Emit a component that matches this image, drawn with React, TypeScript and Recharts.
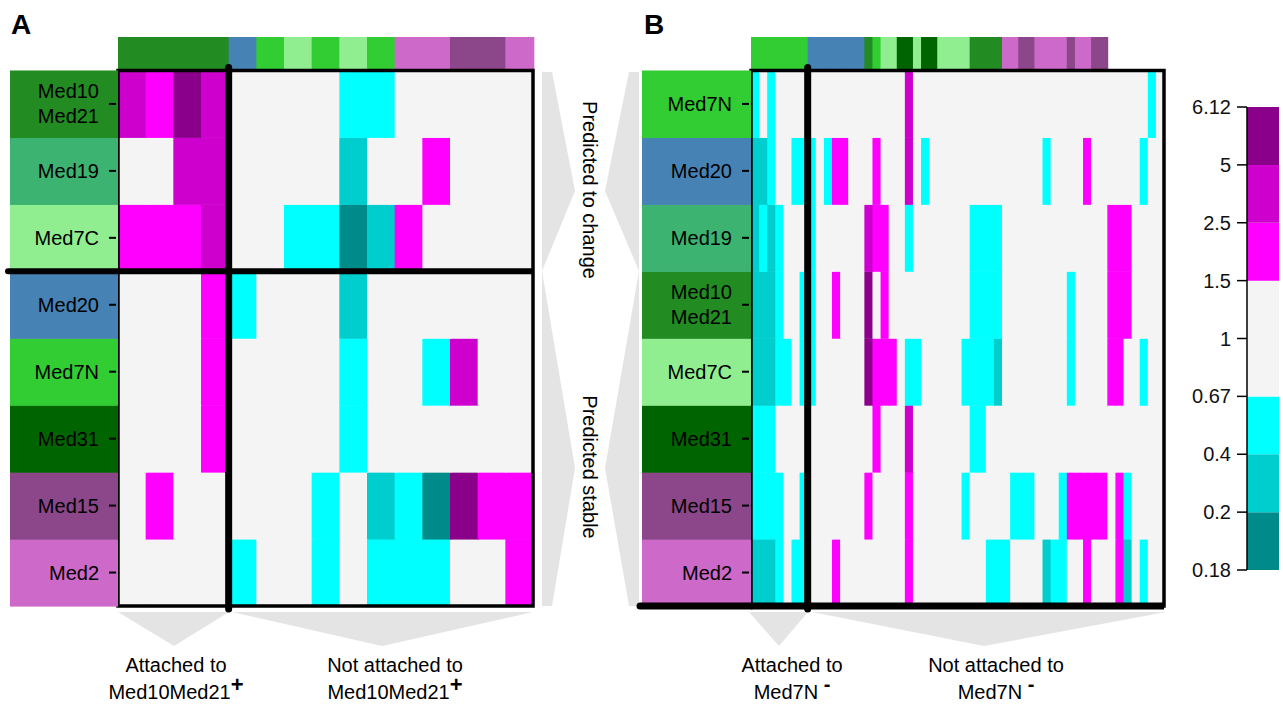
import React from "react";
import { Bar, BarChart, Cell, ReferenceArea, ReferenceLine, XAxis, YAxis } from "recharts";

const FONT = '"Liberation Sans", Arial, Helvetica, sans-serif';

// subunit colours (row label boxes and column bars)
const SUB: Record<string, string> = {
  Med10Med21: "#228B22",
  Med19: "#3CB371",
  Med7C: "#90EE90",
  Med20: "#4682B4",
  Med7N: "#32CD32",
  Med31: "#006400",
  Med15: "#8B4789",
  Med2: "#CD69C9",
};

// colour key, bottom to top
const legendTicks = ["0.18", "0.2", "0.4", "0.67", "1", "1.5", "2.5", "5", "6.12"];
const legendColors = ["#008B8B", "#00CDCD", "#00FFFF", "#F4F4F4", "#F4F4F4", "#FF00FF", "#CD00CD", "#8B008B"];

function heatColor(v: number) {
  if (v >= 5) return "#8B008B";
  if (v >= 2.5) return "#CD00CD";
  if (v >= 1.5) return "#FF00FF";
  if (v > 0.67) return "#F4F4F4";
  if (v >= 0.4) return "#00FFFF";
  if (v >= 0.2) return "#00CDCD";
  return "#008B8B";
}

// ---- panel A ----
const rowsA = ["Med10Med21", "Med19", "Med7C", "Med20", "Med7N", "Med31", "Med15", "Med2"];
const topA = [
  "Med10Med21", "Med10Med21", "Med10Med21", "Med10Med21", "Med20", "Med7N", "Med7C", "Med7N",
  "Med7C", "Med7N", "Med2", "Med2", "Med15", "Med15", "Med2",
];
const heatA = [
  [3.5, 2, 5.5, 3.5, 1, 1, 1, 1, 0.5, 0.5, 1, 1, 1, 1, 1],
  [1, 1, 3.5, 3.5, 1, 1, 1, 1, 0.3, 1, 1, 2, 1, 1, 1],
  [2, 2, 2, 3.5, 1, 1, 0.5, 0.5, 0.19, 0.3, 2, 1, 1, 1, 1],
  [1, 1, 1, 2, 0.5, 1, 1, 1, 0.3, 1, 1, 1, 1, 1, 1],
  [1, 1, 1, 2, 1, 1, 1, 1, 0.5, 1, 1, 0.5, 3.5, 1, 1],
  [1, 1, 1, 2, 1, 1, 1, 1, 0.5, 1, 1, 1, 1, 1, 1],
  [1, 2, 1, 1, 1, 1, 1, 0.5, 1, 0.3, 0.5, 0.19, 5.5, 2, 2],
  [1, 1, 1, 1, 0.5, 1, 1, 0.5, 1, 0.5, 0.5, 0.5, 1, 1, 2],
];

// ---- panel B ----
const rowsB = ["Med7N", "Med20", "Med19", "Med10Med21", "Med7C", "Med31", "Med15", "Med2"];
const topB: (string | null)[] = [
  "Med7N", "Med7N", "Med7N", "Med7N", "Med7N", "Med7N", "Med7N",
  "Med20", "Med20", "Med20", "Med20", "Med20", "Med20", "Med20",
  "Med10Med21", "Med7N", "Med7C", "Med7C", "Med31", "Med31", "Med7C", "Med31", "Med31",
  "Med7C", "Med7C", "Med7C", "Med7C", "Med10Med21", "Med10Med21", "Med10Med21", "Med10Med21",
  "Med2", "Med2", "Med15", "Med15", "Med2", "Med2", "Med2", "Med2", "Med15", "Med2", "Med2",
  "Med15", "Med15", null, null, null, null, null, null, null,
];
const heatB = [
  [0.5, 1, 0.5, 1, 1, 1, 1, 1, 1, 1, 1, 1, 1, 1, 1, 1, 1, 1, 1, 3.5, 1, 1, 1, 1, 1, 1, 1, 1, 1, 1,
    1, 1, 1, 1, 1, 1, 1, 1, 1, 1, 1, 1, 1, 1, 1, 1, 1, 1, 1, 0.5, 1],
  [0.3, 0.3, 0.5, 1, 1, 0.5, 0.5, 0.5, 1, 0.5, 2, 2, 1, 1, 1, 2, 1, 1, 1, 3.5, 1, 0.5, 1, 1, 1, 1, 1, 1, 1, 1,
    1, 1, 1, 1, 1, 1, 0.5, 1, 1, 1, 1, 2, 1, 1, 1, 1, 1, 1, 0.5, 1, 1],
  [0.3, 0.5, 0.3, 0.5, 1, 1, 1, 0.5, 1, 1, 1, 1, 1, 1, 3.5, 2, 2, 1, 1, 0.5, 1, 1, 1, 1, 1, 1, 1, 0.5, 0.5, 0.5,
    0.5, 1, 1, 1, 1, 1, 1, 1, 1, 1, 1, 1, 1, 1, 2, 2, 2, 1, 1, 1, 1],
  [0.3, 0.3, 0.3, 0.5, 1, 1, 0.5, 0.5, 1, 1, 2, 1, 1, 1, 5.5, 1, 2, 1, 1, 1, 1, 1, 1, 1, 1, 1, 1, 0.5, 0.5, 0.5,
    0.5, 1, 1, 1, 1, 1, 1, 1, 1, 0.5, 1, 1, 1, 1, 2, 2, 2, 1, 1, 1, 1],
  [0.3, 0.3, 0.3, 0.5, 0.5, 1, 0.5, 0.5, 1, 1, 1, 1, 1, 1, 5.5, 2, 2, 2, 1, 0.5, 0.5, 1, 1, 1, 1, 1, 0.5, 0.5, 0.5, 0.5,
    0.3, 1, 1, 1, 1, 1, 1, 1, 1, 0.5, 1, 1, 1, 1, 2, 2, 1, 1, 0.5, 1, 1],
  [0.5, 0.5, 0.5, 1, 1, 1, 1, 1, 1, 1, 1, 1, 1, 1, 1, 2, 1, 1, 1, 3.5, 1, 1, 1, 1, 1, 1, 1, 0.5, 0.5, 1,
    1, 1, 1, 1, 1, 1, 1, 1, 1, 1, 1, 1, 1, 1, 1, 1, 1, 1, 1, 1, 1],
  [0.5, 0.5, 0.5, 0.5, 1, 1, 0.5, 1, 1, 1, 1, 1, 1, 1, 2, 1, 1, 1, 1, 2, 1, 1, 1, 1, 1, 1, 0.5, 1, 1, 1,
    1, 1, 0.5, 0.5, 0.5, 1, 1, 1, 0.5, 2, 2, 2, 2, 2, 1, 2, 0.5, 1, 1, 1, 1],
  [0.3, 0.3, 0.3, 0.5, 1, 0.5, 0.5, 1, 1, 1, 2, 1, 1, 1, 1, 1, 1, 1, 1, 2, 1, 1, 1, 1, 1, 1, 1, 1, 1, 0.5,
    0.5, 0.5, 1, 1, 1, 1, 0.3, 0.5, 0.5, 1, 1, 2, 1, 1, 1, 2, 0.3, 1, 0.5, 1, 1],
];

const CHART_H = 620;
const M_TOP = 37;
const M_BOTTOM = 14;
const ROW_H = (CHART_H - M_TOP - M_BOTTOM) / 8.5;

// cell drawn a touch wider so neighbouring cells meet without seams
const CellShape = (p: any) => (
  <rect x={p.x} y={p.y} width={p.width + 1} height={p.height + 0.5} fill={p.fill} />
);

type PanelProps = {
  rows: string[];
  heat: number[][];
  topBar: (string | null)[];
  attached: number;
  split?: number;
  bottomRule?: boolean;
  axisWidth: number;
  plotWidth: number;
  width: number;
};

function HeatPanel({ rows, heat, topBar, attached, split, bottomRule, axisWidth, plotWidth, width }: PanelProps) {
  const cols = heat[0].map((_, j) => `c${j + 1}`);
  const data = cols.map((c) => {
    const d: Record<string, string | number> = { col: c, top: 0.5 };
    rows.forEach((_, i) => (d[`r${i}`] = 1));
    return d;
  });
  const n = rows.length;
  const boxLeft = 10;

  const RowTick = (props: any) => {
    const { y, payload } = props;
    const i = n - 1 - Math.floor(payload.value);
    const name = rows[i];
    const lines = name === "Med10Med21" ? ["Med10", "Med21"] : [name];
    const top = y - ROW_H / 2;
    return (
      <g>
        <rect x={boxLeft} y={top} width={axisWidth - boxLeft} height={ROW_H + 0.6} fill={SUB[name]} />
        {lines.map((t, k) => (
          <text
            key={t}
            x={axisWidth - 19}
            y={y + (k - (lines.length - 1) / 2) * 25}
            textAnchor="end"
            dominantBaseline="central"
            fontSize={20}
            fontFamily={FONT}
            fill="#000"
          >
            {t}
          </text>
        ))}
        <line x1={axisWidth - 9} x2={axisWidth - 2} y1={y} y2={y} stroke="#000" strokeWidth={2} />
        {split !== undefined && i === split - 1 && (
          <line x1={boxLeft - 2} x2={axisWidth} y1={top + ROW_H} y2={top + ROW_H} stroke="#000" strokeWidth={6} strokeLinecap="round" />
        )}
        {bottomRule && i === n - 1 && (
          <line x1={boxLeft - 2} x2={axisWidth} y1={top + ROW_H} y2={top + ROW_H} stroke="#000" strokeWidth={7} strokeLinecap="round" />
        )}
      </g>
    );
  };

  return (
    <BarChart
      width={width}
      height={CHART_H}
      data={data}
      margin={{ top: M_TOP, right: width - axisWidth - plotWidth, bottom: M_BOTTOM, left: 0 }}
      barCategoryGap={0}
      barGap={0}
    >
      <XAxis dataKey="col" hide />
      <YAxis
        type="number"
        domain={[0, 8.5]}
        ticks={rows.map((_, i) => i + 0.5)}
        interval={0}
        width={axisWidth}
        axisLine={false}
        tickLine={false}
        tick={(p: any) => <RowTick {...p} />}
      />
      {rows
        .map((_, i) => i)
        .reverse()
        .map((i) => (
          <Bar key={i} dataKey={`r${i}`} stackId="h" isAnimationActive={false} shape={CellShape}>
            {heat[i].map((v, j) => (
              <Cell key={j} fill={heatColor(v)} />
            ))}
          </Bar>
        ))}
      <Bar dataKey="top" stackId="h" isAnimationActive={false} shape={CellShape}>
        {topBar.map((s, j) => (
          <Cell key={j} fill={s ? SUB[s] : "transparent"} />
        ))}
      </Bar>
      {split !== undefined && (
        <ReferenceLine y={n - split} stroke="#000" strokeWidth={6} zIndex={1500} />
      )}
      {bottomRule && <ReferenceLine y={0} stroke="#000" strokeWidth={7} zIndex={1500} />}
      <ReferenceArea
        x1={cols[0]}
        x2={cols[cols.length - 1]}
        y1={0}
        y2={8}
        fill="none"
        stroke="#000"
        strokeWidth={3.5}
        zIndex={1500}
      />
      <ReferenceArea
        x1={cols[attached]}
        x2={cols[cols.length - 1]}
        y1={0}
        y2={8}
        zIndex={1600}
        shape={(p: any) => (
          <line x1={p.x} x2={p.x} y1={p.y - 3} y2={p.y + p.height + 3} stroke="#000" strokeWidth={7} strokeLinecap="round" />
        )}
      />
    </BarChart>
  );
}

export default function App() {
  const legendData = [
    legendColors.reduce((acc: Record<string, string | number>, _, i) => ({ ...acc, [`b${i}`]: 1 }), { name: "fold" }),
  ];
  const txt = { fontFamily: FONT, fontSize: 20, fill: "#000" };
  return (
    <div style={{ position: "absolute", left: 0, top: 0, width: 1283, height: 705, background: "#fff", fontFamily: FONT }}>
      <svg width={1283} height={705} style={{ position: "absolute", left: 0, top: 0 }}>
        <g fill="#E4E4E4">
          <polygon points="118,612 229,612 174,646" />
          <polygon points="232,612 533,612 382,646" />
          <polygon points="749,612 808,612 779,646" />
          <polygon points="812,612 1166,612 984,646" />
          <polygon points="542,72 552,72 575,191 542,271" />
          <polygon points="542,271 575,468 552,606 542,606" />
          <polygon points="639,72 629,72 605,191 639,271" />
          <polygon points="639,271 605,468 629,606 639,606" />
        </g>
        <text x={11} y={34} fontFamily={FONT} fontSize={28} fontWeight="bold">A</text>
        <text x={644} y={34} fontFamily={FONT} fontSize={28} fontWeight="bold">B</text>
        <text {...txt} transform="translate(590,190) rotate(90)" textAnchor="middle" dominantBaseline="central">
          Predicted to change
        </text>
        <text {...txt} transform="translate(590,467) rotate(90)" textAnchor="middle" dominantBaseline="central">
          Predicted stable
        </text>
        <text {...txt} x={176} y={672} textAnchor="middle">Attached to</text>
        <text {...txt} x={176} y={699} textAnchor="middle">
          Med10Med21<tspan dy={-7} fontWeight="bold" fontSize={22}>+</tspan>
        </text>
        <text {...txt} x={395} y={672} textAnchor="middle">Not attached to</text>
        <text {...txt} x={395} y={699} textAnchor="middle">
          Med10Med21<tspan dy={-7} fontWeight="bold" fontSize={22}>+</tspan>
        </text>
        <text {...txt} x={792} y={672} textAnchor="middle">Attached to</text>
        <text {...txt} x={792} y={699} textAnchor="middle">
          Med7N <tspan dy={-8} fontWeight="bold">-</tspan>
        </text>
        <text {...txt} x={996} y={672} textAnchor="middle">Not attached to</text>
        <text {...txt} x={996} y={699} textAnchor="middle">
          Med7N <tspan dy={-8} fontWeight="bold">-</tspan>
        </text>
      </svg>
      <div style={{ position: "absolute", left: 0, top: 0 }}>
        <HeatPanel rows={rowsA} heat={heatA} topBar={topA} attached={4} split={3} axisWidth={118} plotWidth={415} width={540} />
      </div>
      <div style={{ position: "absolute", left: 632, top: 0 }}>
        <HeatPanel rows={rowsB} heat={heatB} topBar={topB} attached={7} bottomRule axisWidth={119} plotWidth={413} width={540} />
      </div>
      <div style={{ position: "absolute", left: 1180, top: 0 }}>
        <BarChart width={102} height={705} data={legendData} margin={{ top: 107, right: 3, bottom: 135, left: 0 }} barCategoryGap={0}>
          <XAxis dataKey="name" hide />
          <YAxis
            type="number"
            domain={[0, 8]}
            ticks={legendTicks.map((_, i) => i)}
            interval={0}
            tickFormatter={(v: number) => legendTicks[v]}
            width={67}
            tickSize={10}
            tickMargin={6}
            axisLine={{ stroke: "#000", strokeWidth: 1.5 }}
            tickLine={{ stroke: "#000", strokeWidth: 1.5 }}
            tick={{ fontSize: 20, fill: "#111", fontFamily: FONT }}
          />
          {legendColors.map((c, i) => (
            <Bar key={i} dataKey={`b${i}`} stackId="l" fill={c} isAnimationActive={false} />
          ))}
        </BarChart>
      </div>
    </div>
  );
}
